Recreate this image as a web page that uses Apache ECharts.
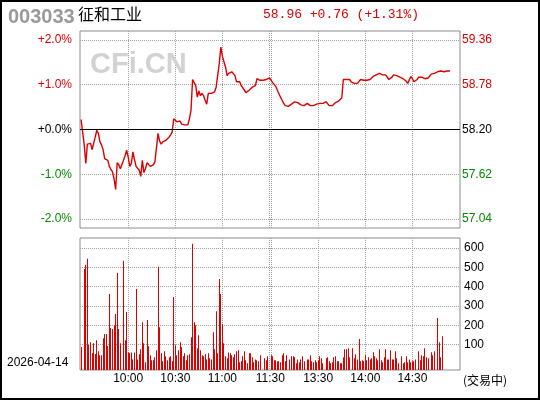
<!DOCTYPE html>
<html><head><meta charset="utf-8">
<script src="https://cdn.jsdelivr.net/npm/echarts@6/dist/echarts.min.js"></script>
<style>html,body{margin:0;padding:0;background:#fff}#c{width:540px;height:400px}</style>
</head><body><div id="c"></div>
<script>
const stockCode = '003033';
const stockName = '征和工业';
const tradeDate = '2026-04-14';
const statusText = '(交易中)';
const watermark = 'CFi.CN';
const prevClose = 58.20;

// minute index 0 = 09:30, 120 = 11:30, 121 = 13:00, 241 = 15:00
const pricesAM = [
58.33,58.31,58.00,57.76,58.01,58.00,58.02,57.94,58.02,58.10,
58.19,58.15,58.04,58.00,57.94,57.82,57.81,57.80,57.72,57.68,
57.65,57.56,57.42,57.77,57.74,57.69,57.68,57.80,57.86,57.93,
57.84,57.72,57.76,57.91,57.81,57.72,57.71,57.67,57.59,57.80,
57.64,57.69,57.77,57.78,57.72,57.72,57.74,57.78,57.79,58.15,
58.05,58.01,58.04,58.06,58.06,58.08,58.10,58.13,58.17,58.34,
58.32,58.30,58.29,58.31,58.27,58.26,58.26,58.28,58.26,58.34,
58.45,58.85,58.87,58.77,58.62,58.70,58.64,58.67,58.64,58.58,
58.53,58.67,58.67,58.67,58.67,58.69,58.75,58.73,59.06,59.27,
59.15,59.14,59.01,58.90,58.93,58.94,58.95,58.96,58.90,58.82,
58.80,58.82,58.77,58.74,58.71,58.68,58.68,58.71,58.73,58.75,
58.76,58.77,58.86,58.87,58.84,58.84,58.84,58.84,58.85,58.86,
58.87];
const pricesPM = [
58.85,58.81,58.79,58.76,58.71,58.69,58.62,58.58,58.54,58.51,
58.50,58.50,58.50,58.53,58.54,58.56,58.56,58.55,58.54,58.52,
58.51,58.51,58.52,58.54,58.53,58.51,58.51,58.51,58.51,58.53,
58.54,58.54,58.54,58.54,58.55,58.56,58.54,58.51,58.51,58.51,
58.53,58.55,58.56,58.57,58.59,58.61,58.85,58.85,58.85,58.85,
58.85,58.82,58.81,58.80,58.79,58.80,58.82,58.85,58.83,58.84,
58.84,58.84,58.84,58.85,58.87,58.89,58.90,58.91,58.92,58.93,
58.91,58.91,58.91,58.91,58.90,58.85,58.85,58.88,58.91,58.92,
58.90,58.89,58.88,58.87,58.86,58.85,58.83,58.80,58.82,58.89,
58.86,58.82,58.82,58.85,58.88,58.88,58.88,58.87,58.86,58.87,
58.87,58.88,58.92,58.92,58.93,58.93,58.95,58.96,58.96,58.95,
58.95,58.96,58.96,58.96,58.96];
const volumes = [
87,0,492,513,544,98,112,55,107,51,
122,65,44,44,133,154,154,93,362,185,
180,200,258,471,180,107,0,534,122,268,
59,55,59,23,59,388,23,49,75,216,
107,8,227,91,44,18,18,34,70,503,
190,55,13,65,39,18,34,39,13,346,
96,44,70,112,86,39,55,18,44,49,
138,622,216,200,81,148,70,44,39,49,
23,55,29,23,164,75,273,55,440,362,
206,107,39,29,59,55,44,34,49,65,
70,8,13,39,65,18,3,55,55,34,
8,23,18,13,44,0,0,29,18,39,
0,44,39,18,18,13,13,8,44,55,
13,44,0,23,39,39,34,3,23,8,
23,39,13,0,23,23,44,13,8,18,
8,18,39,29,3,0,29,34,13,3,
8,34,39,13,13,3,3,34,75,75,
81,34,0,81,29,50,23,128,13,18,
13,44,18,34,23,29,60,39,29,18,
75,18,8,34,75,23,23,70,23,23,
65,29,3,0,39,3,8,39,8,23,
8,13,13,23,0,65,18,44,39,81,
34,29,0,60,44,65,0,237,112,34,
143];

const gridMinutes = [30, 60, 90, 120, 121, 151, 181, 211];
const timeTickMinutes = [30, 60, 90, 120.5, 151, 181, 211];
const timeTickLabels = ['10:00', '10:30', '11:00', '11:30', '13:30', '14:00', '14:30'];
const pctTicks = [-2, -1, 0, 1, 2];
const pctRange = 2.2;
const volTicks = [100, 200, 300, 400, 500, 600];
const volMin = -32, volMax = 652;

const RED = '#dd0000', GREEN = '#008c00';
const prices = pricesAM.concat(pricesPM);
const priceData = prices.map((p, i) => [i, p]);
const volData = volumes.map((v, i) => [i, v]).filter(d => d[1] > 0);
const priceTicks = pctTicks.map(p => prevClose * (1 + p / 100));
const last = prices[prices.length - 1];
const chg = last - prevClose;
const chgPct = chg / prevClose * 100;
const sgn = v => (v >= 0 ? '+' : '');
const headText = last.toFixed(2) + ' ' + sgn(chg) + chg.toFixed(2) + ' (' + sgn(chgPct) + chgPct.toFixed(2) + '%)';

const FONT = 'Liberation Sans';
const dotted = { color: '#a0a0a0', width: 1, type: [1, 1] };
const colorBy = (v, base) => { v = parseFloat(v); return Math.abs(v - base) < 1e-6 ? '#000' : (v > base ? RED : GREEN); };

const chart = echarts.init(document.getElementById('c'), null, { renderer: 'canvas' });
chart.setOption({
  animation: false,
  textStyle: { fontFamily: FONT },
  grid: [
    { left: 80, right: 80, top: 31, bottom: 172, show: true, borderColor: '#8c8c8c', borderWidth: 1, containLabel: false, outerBoundsMode: 'none' },
    { left: 80, right: 80, top: 238, bottom: 30, show: true, borderColor: '#8c8c8c', borderWidth: 1, containLabel: false, outerBoundsMode: 'none' }
  ],
  xAxis: [
    { gridIndex: 0, type: 'value', min: -0.7, max: 241.3, axisLine: { show: false },
      axisTick: { show: false, customValues: gridMinutes }, axisLabel: { show: false },
      splitLine: { show: true, lineStyle: dotted } },
    { gridIndex: 1, type: 'value', min: -0.7, max: 241.3, axisLine: { show: false },
      axisTick: { show: false, customValues: gridMinutes },
      axisLabel: { show: true, customValues: timeTickMinutes, margin: 3, color: '#000', fontSize: 12, fontFamily: FONT,
        hideOverlap: false,
        formatter: v => { const i = timeTickMinutes.indexOf(Number(v)); return i >= 0 ? timeTickLabels[i] : ''; } },
      splitLine: { show: true, lineStyle: dotted } }
  ],
  yAxis: [
    { gridIndex: 0, type: 'value', position: 'right', min: prevClose * (1 - pctRange / 100), max: prevClose * (1 + pctRange / 100),
      axisLine: { show: false }, axisTick: { show: false, customValues: priceTicks }, splitLine: { show: false },
      axisLabel: { customValues: priceTicks, margin: 2, fontSize: 12, fontFamily: FONT,
        formatter: v => Number(v).toFixed(2), color: v => colorBy(v, prevClose) } },
    { gridIndex: 0, type: 'value', position: 'left', min: -pctRange, max: pctRange,
      axisLine: { show: false }, axisTick: { show: false, customValues: pctTicks },
      splitLine: { show: true, lineStyle: dotted },
      axisLabel: { customValues: pctTicks, margin: 8, fontSize: 12, fontFamily: FONT,
        formatter: v => (Number(v) >= 0 ? '+' : '') + Number(v).toFixed(1) + '%', color: v => colorBy(v, 0) } },
    { gridIndex: 1, type: 'value', position: 'right', min: volMin, max: volMax,
      axisLine: { show: false }, axisTick: { show: false, customValues: volTicks },
      splitLine: { show: true, lineStyle: dotted },
      axisLabel: { customValues: volTicks, margin: 4, fontSize: 12, fontFamily: FONT, color: '#000' } }
  ],
  graphic: [
    { type: 'rect', shape: { x: 1, y: 1, width: 538, height: 398 }, style: { fill: 'none', stroke: '#000', lineWidth: 2 }, z: 100, silent: true },
    { type: 'text', x: 8, y: 17, style: { text: stockCode, font: 'bold 20px "Liberation Sans"', fill: '#9a9a9a', verticalAlign: 'middle' } },
    { type: 'text', x: 78, y: 14, style: { text: stockName, font: '16px "Noto Sans CJK SC"', fill: '#000', verticalAlign: 'middle' } },
    { type: 'text', x: 263, y: 15, style: { text: headText, font: '13px "Liberation Mono"', fill: RED, verticalAlign: 'middle' } },
    { type: 'text', x: 90, y: 65, z: 1, style: { text: watermark, font: 'bold 29px "Liberation Sans"', fill: '#d2d2d2', verticalAlign: 'middle' } },
    { type: 'text', x: 7, y: 363, style: { text: tradeDate, font: '12px "Liberation Sans"', fill: '#000', verticalAlign: 'middle' } },
    { type: 'text', x: 463, y: 380, style: { text: statusText, font: '12px "Noto Sans CJK SC"', fill: '#000', verticalAlign: 'middle' } }
  ],
  series: [
    { type: 'line', xAxisIndex: 0, yAxisIndex: 0, data: priceData, symbol: 'none', z: 3,
      lineStyle: { color: RED, width: 1.4 },
      markLine: { silent: true, symbol: 'none', label: { show: false },
        lineStyle: { color: '#000', type: 'solid', width: 1.2 }, data: [{ yAxis: prevClose }] } },
    { type: 'custom', xAxisIndex: 1, yAxisIndex: 2, data: volData,
      renderItem: (params, api) => {
        const x = api.value(0), v = api.value(1);
        const top = api.coord([x, v]);
        const base = api.coord([x, volMin]);
        return { type: 'rect', shape: { x: Math.floor(top[0]), y: top[1], width: 1, height: base[1] - top[1] },
          style: { fill: RED } };
      } }
  ]
});
</script></body></html>
